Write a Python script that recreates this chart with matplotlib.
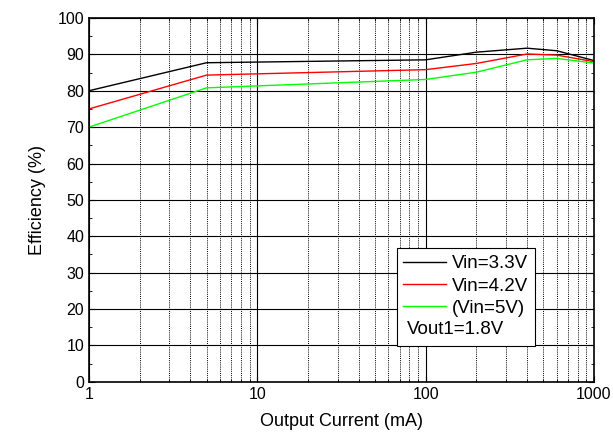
import numpy as np
import matplotlib.pyplot as plt
from matplotlib.lines import Line2D
from matplotlib.ticker import FixedLocator, NullFormatter

plt.rcParams['font.family'] = ['Liberation Sans', 'DejaVu Sans']

# data
current = [1, 5, 100, 200, 400, 600, 1000]
eff_33 = [80.0, 87.7, 88.5, 90.6, 91.7, 91.0, 88.3]
eff_42 = [75.0, 84.3, 85.8, 87.5, 90.1, 89.8, 88.0]
eff_50 = [70.0, 80.8, 83.1, 85.1, 88.5, 88.9, 87.6]

fig = plt.figure(figsize=(6.13, 4.44), dpi=100)
ax = fig.add_axes([0.145, 0.14, 0.824, 0.8195])

ax.plot(current, eff_33, color='black', lw=1.0, label='Vin=3.3V')
ax.plot(current, eff_42, color='#ff0000', lw=1.0, label='Vin=4.2V')
ax.plot(current, eff_50, color='#00ff00', lw=1.0, label='(Vin=5V)')

ax.set_xscale('log')
ax.set_xlim(1, 1000)
ax.set_ylim(0, 100)
ax.set_yticks(np.arange(0, 101, 10))
ax.yaxis.set_minor_locator(FixedLocator(np.arange(5, 100, 10)))
ax.set_xticks([1, 10, 100, 1000])
ax.set_xticklabels(['1', '10', '100', '1000'])
ax.xaxis.set_minor_formatter(NullFormatter())

# grid: solid majors, dotted minor verticals
ax.grid(True, which='major', color='black', lw=0.8, ls='-')
ax.grid(True, which='minor', axis='x', color='black', lw=0.7, ls=(0, (1, 1.2)))
ax.set_axisbelow(True)

ax.tick_params(which='both', direction='in', top=True, right=True, labelsize=11.5)
ax.tick_params(which='major', length=4)
ax.tick_params(which='minor', length=2.5)
for s in ax.spines.values():
    s.set_linewidth(1.2)

ax.set_xlabel('Output Current (mA)', fontsize=13, labelpad=8)
ax.set_ylabel('Efficiency (%)', fontsize=13, labelpad=8)

# legend with a blank 4th row, the Vout note is written into it
handles, labels = ax.get_legend_handles_labels()
handles.append(Line2D([], [], color='none'))
labels.append(' ')
leg = ax.legend(handles, labels, loc='lower right', bbox_to_anchor=(0.883, 0.099),
                fontsize=13.5, frameon=True, fancybox=False, edgecolor='black',
                framealpha=1, handlelength=2.3, handletextpad=0.3,
                borderpad=0.35, labelspacing=0.28, borderaxespad=0)
leg.get_frame().set_linewidth(0.8)
ax.text(0.63, 0.143, 'Vout1=1.8V', transform=ax.transAxes, fontsize=13.5,
        va='center', ha='left', zorder=10)

fig.savefig('out.png', dpi=100)
